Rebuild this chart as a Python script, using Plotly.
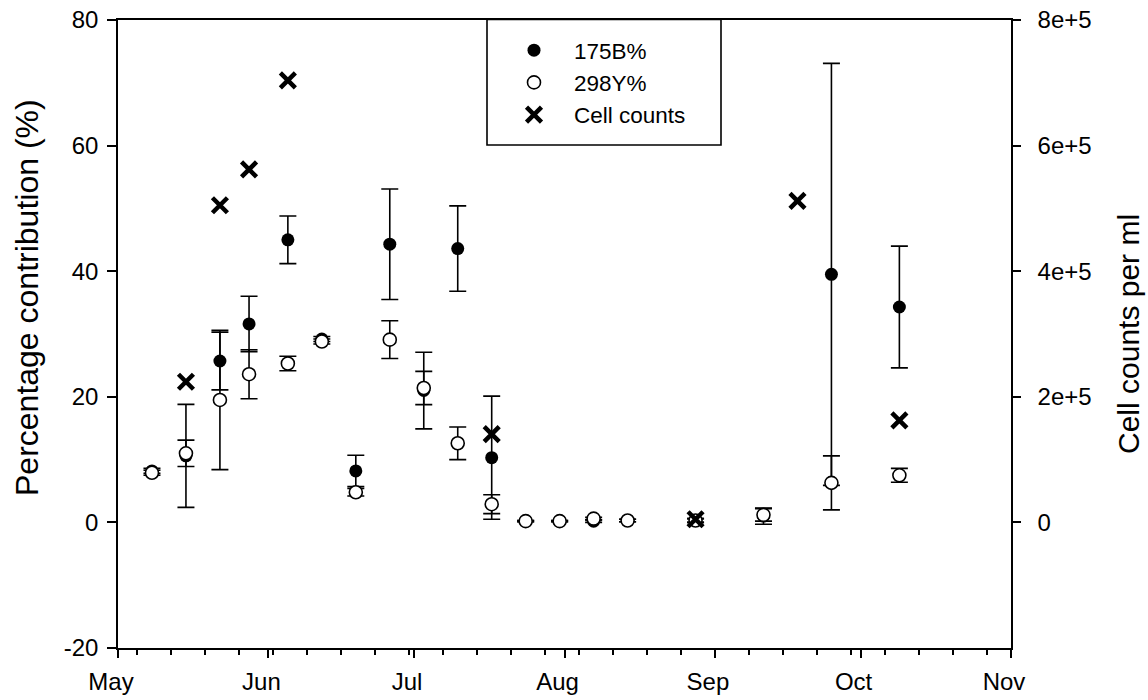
import plotly.graph_objects as go

# ---- data ----
dates = ["2002-05-08", "2002-05-15", "2002-05-22", "2002-05-28", "2002-06-05",
         "2002-06-12", "2002-06-19", "2002-06-26", "2002-07-03", "2002-07-10",
         "2002-07-17", "2002-07-24", "2002-07-31", "2002-08-07", "2002-08-14",
         "2002-08-28", "2002-09-11", "2002-09-25", "2002-10-09"]
b175 = [8.2, 10.6, 25.7, 31.6, 45.0, 29.2, 8.2, 44.3, 21.0, 43.6,
        10.3, 0.2, 0.2, 0.2, 0.3, 0.3, 1.0, 39.5, 34.3]
b175_err = [0.4, 8.2, 4.6, 4.4, 3.8, 0.4, 2.5, 8.8, 6.1, 6.8,
            9.8, 0.1, 0.1, 0.2, 0.2, 0.3, 1.3, 33.6, 9.7]
y298 = [7.9, 11.0, 19.5, 23.6, 25.3, 28.8, 4.8, 29.1, 21.4, 12.6,
        2.9, 0.2, 0.2, 0.6, 0.3, 0.3, 1.2, 6.3, 7.5]
y298_err = [0.4, 2.1, 11.1, 3.9, 1.15, 0.4, 0.6, 3.0, 2.65, 2.6,
            1.5, 0.1, 0.1, 0.2, 0.2, 0.3, 1.0, 4.3, 1.1]
cell_dates = ["2002-05-15", "2002-05-22", "2002-05-28", "2002-06-05",
              "2002-07-17", "2002-08-28", "2002-09-18", "2002-10-09"]
cell_counts = [2.24e5, 5.05e5, 5.62e5, 7.04e5, 1.405e5, 5e3, 5.12e5, 1.625e5]

y_tickvals = [-20, 0, 20, 40, 60, 80]
y_ticktext = ["-20", "0", "20", "40", "60", "80"]
y2_tickvals = [0, 2e5, 4e5, 6e5, 8e5]
y2_ticktext = ["0", "2e+5", "4e+5", "6e+5", "8e+5"]

FONT = "Liberation Sans, Arial, sans-serif"
ML, MR, MT, MB = 118, 137, 20, 52
W, H = 1148, 700
PW, PH = W - ML - MR, H - MT - MB

def px_x(px):
    return (px - ML) / PW

def px_y(py):
    return (H - MB - py) / PH

fig = go.Figure()
fig.add_trace(go.Scatter(
    x=dates, y=b175, mode="markers", name="175B%",
    marker=dict(symbol="circle", size=13, color="black"),
    error_y=dict(type="data", array=b175_err, color="black", thickness=1.6, width=8.5),
))
fig.add_trace(go.Scatter(
    x=dates, y=y298, mode="markers", name="298Y%",
    marker=dict(symbol="circle", size=13, color="white", line=dict(color="black", width=1.6)),
    error_y=dict(type="data", array=y298_err, color="black", thickness=1.6, width=8.5),
))
fig.add_trace(go.Scatter(
    x=cell_dates, y=cell_counts, mode="markers", name="Cell counts", yaxis="y2",
    marker=dict(symbol="x-thin", size=15, color="black", line=dict(color="black", width=4.5)),
))

axis_common = dict(showgrid=False, zeroline=False, showline=True, linecolor="black",
                   linewidth=1.6, ticks="outside", tickcolor="black", tickwidth=1.6,
                   automargin=False,
                   tickfont=dict(family=FONT, size=24, color="black"))

fig.update_layout(
    width=W, height=H,
    margin=dict(l=ML, r=MR, t=MT, b=MB, pad=0, autoexpand=False),
    paper_bgcolor="white", plot_bgcolor="white",
    font=dict(family=FONT, size=24, color="black"),
    showlegend=True,
    xaxis=dict(axis_common, type="date", range=["2002-05-01", "2002-11-01"],
               tick0="2002-05-01", dtick="M1", tickformat="%b", ticklen=8,
               mirror=True, ticklabelshift=-7, ticklabelstandoff=3,
               minor=dict(ticks="outside", ticklen=5, tickwidth=1.6, tickcolor="black",
                          dtick=7 * 86400000, tick0="2002-05-05", showgrid=False)),
    yaxis=dict(axis_common, range=[-20, 80], tickvals=y_tickvals, ticktext=y_ticktext,
               ticklen=9, ticklabelstandoff=4),
    yaxis2=dict(axis_common, overlaying="y", side="right", range=[-2e5, 8e5],
                tickvals=y2_tickvals, ticktext=y2_ticktext, ticklen=8,
                ticklabelstandoff=12),
    legend=dict(x=px_x(494), y=px_y(29), xanchor="left", yanchor="top",
                bgcolor="rgba(0,0,0,0)", borderwidth=0, itemwidth=70,
                font=dict(family=FONT, size=22.5, color="black"), tracegroupgap=0),
    shapes=[dict(type="rect", xref="paper", yref="paper",
                 x0=px_x(487), x1=px_x(721), y0=px_y(145), y1=px_y(19.5),
                 line=dict(color="black", width=1.6), fillcolor="rgba(0,0,0,0)")],
    annotations=[
        dict(text="Percentage contribution (%)", xref="paper", yref="paper",
             x=px_x(27), y=px_y(298), textangle=-90, showarrow=False,
             xanchor="center", yanchor="middle",
             font=dict(family=FONT, size=32, color="black")),
        dict(text="Cell counts per ml", xref="paper", yref="paper",
             x=px_x(1128), y=px_y(334), textangle=-90, showarrow=False,
             xanchor="center", yanchor="middle",
             font=dict(family=FONT, size=30, color="black")),
    ],
)

fig.write_html("out.html")
